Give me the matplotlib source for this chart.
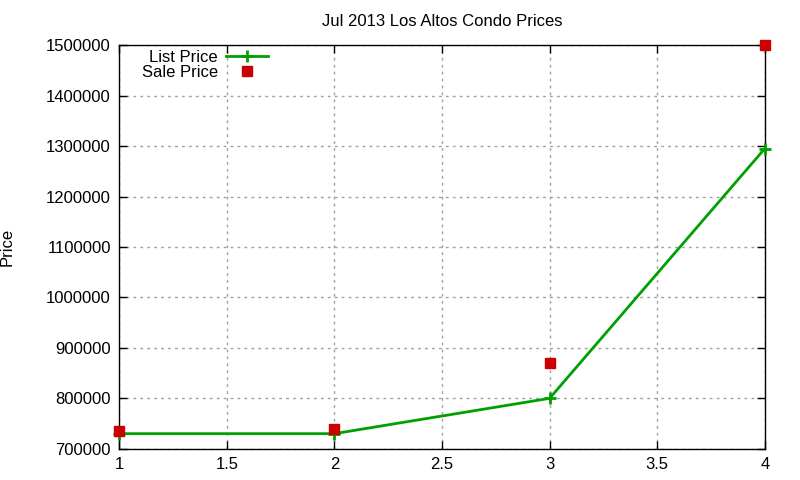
import matplotlib
matplotlib.use("Agg")
import matplotlib.pyplot as plt

plt.rcParams['font.family'] = ['Liberation Sans', 'DejaVu Sans']

# --- data ---
x = [1, 2, 3, 4]
list_price = [730000, 730000, 800000, 1295000]
sale_price = [735000, 740000, 870000, 1500000]

xticks = [1, 1.5, 2, 2.5, 3, 3.5, 4]
xticklabels = ['1', '1.5', '2', '2.5', '3', '3.5', '4']
yticks = [700000, 800000, 900000, 1000000, 1100000, 1200000, 1300000, 1400000, 1500000]

fig = plt.figure(figsize=(8, 4.8), dpi=100)
ax = fig.add_axes([0.149, 0.065, 0.807, 0.841])

ax.plot(x, list_price, color='#00a000', lw=2, marker='+', markersize=8,
        markeredgewidth=2, label='List Price', clip_on=False, zorder=3)
ax.plot(x, sale_price, color='#cc0000', ls='none', marker='s', markersize=7,
        label='Sale Price', clip_on=False, zorder=4)

ax.set_xlim(1, 4)
ax.set_ylim(700000, 1500000)
ax.set_xticks(xticks)
ax.set_xticklabels(xticklabels)
ax.set_yticks(yticks)
ax.set_yticklabels([str(v) for v in yticks])
ax.tick_params(direction='in', top=True, right=True, length=6, labelsize=12,
               width=1, pad=6)
ax.grid(True, color='#a0a0a0', ls=(0, (2, 3)), lw=1)
for s in ax.spines.values():
    s.set_linewidth(1)

ax.set_title('Jul 2013 Los Altos Condo Prices', fontsize=12, pad=14)
ax.set_ylabel('Price', fontsize=12)
ax.yaxis.set_label_coords(-0.162, 0.5)

ax.legend(loc='upper left', frameon=False, markerfirst=False, fontsize=12,
          handlelength=2.5, borderaxespad=0.0, labelspacing=0.0,
          bbox_to_anchor=(0.027, 1.0), handletextpad=0.5, borderpad=0.3)

fig.savefig('out.png', dpi=100)
